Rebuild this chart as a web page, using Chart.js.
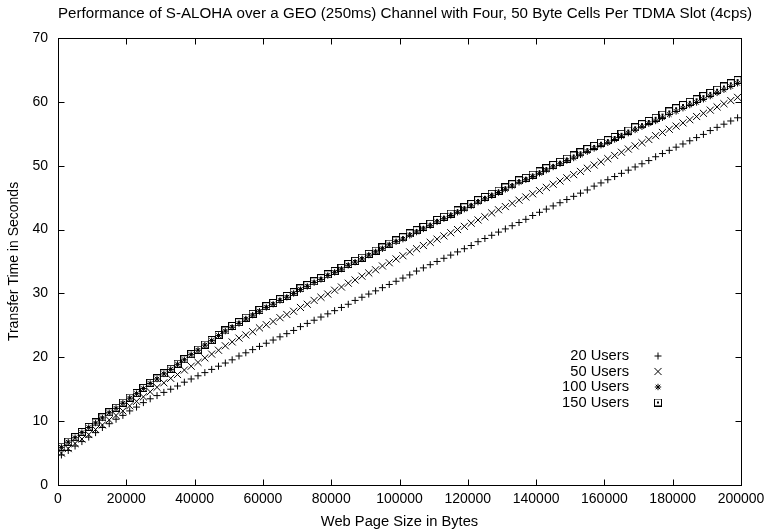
<!DOCTYPE html>
<html>
<head>
<meta charset="utf-8">
<script src="https://cdn.jsdelivr.net/npm/chart.js@4/dist/chart.umd.min.js"></script>
<style>
  html, body { margin: 0; padding: 0; background: #fff; }
  #c { display: block; }
</style>
</head>
<body>
<canvas id="c" width="765" height="531"></canvas>
<script>
// Web page sizes (bytes) at which transfer times were measured
const pageSizes = [
  1000, 3000, 5000, 7000, 9000, 11000, 13000, 15000, 17000, 19000,
  21000, 23000, 25000, 27000, 29000, 31000, 33000, 35000, 37000, 39000,
  41000, 43000, 45000, 47000, 49000, 51000, 53000, 55000, 57000, 59000,
  61000, 63000, 65000, 67000, 69000, 71000, 73000, 75000, 77000, 79000,
  81000, 83000, 85000, 87000, 89000, 91000, 93000, 95000, 97000, 99000,
  101000, 103000, 105000, 107000, 109000, 111000, 113000, 115000, 117000, 119000,
  121000, 123000, 125000, 127000, 129000, 131000, 133000, 135000, 137000, 139000,
  141000, 143000, 145000, 147000, 149000, 151000, 153000, 155000, 157000, 159000,
  161000, 163000, 165000, 167000, 169000, 171000, 173000, 175000, 177000, 179000,
  181000, 183000, 185000, 187000, 189000, 191000, 193000, 195000, 197000, 199000
];

// Transfer time in seconds, one list per user population
const users20 = [
  4.7, 5.4, 6.1, 6.8, 7.5, 8.2, 9.0, 9.6, 10.3, 10.9,
  11.6, 12.2, 12.9, 13.5, 14.0, 14.5, 15.0, 15.5, 16.1, 16.6,
  17.1, 17.6, 18.1, 18.6, 19.1, 19.6, 20.2, 20.7, 21.2, 21.7,
  22.2, 22.7, 23.2, 23.7, 24.2, 24.8, 25.3, 25.8, 26.3, 26.8,
  27.3, 27.8, 28.3, 28.9, 29.4, 29.9, 30.4, 30.9, 31.4, 31.9,
  32.4, 32.9, 33.5, 34.0, 34.5, 35.0, 35.5, 36.0, 36.5, 37.0,
  37.5, 38.1, 38.6, 39.1, 39.6, 40.1, 40.6, 41.1, 41.6, 42.2,
  42.7, 43.2, 43.7, 44.2, 44.7, 45.2, 45.7, 46.2, 46.8, 47.3,
  47.8, 48.3, 48.8, 49.3, 49.8, 50.3, 50.8, 51.4, 51.9, 52.4,
  52.9, 53.4, 53.9, 54.4, 54.9, 55.5, 56.0, 56.5, 57.0, 57.5
];
const users50 = [
  5.0, 5.7, 6.5, 7.2, 7.9, 8.7, 9.4, 10.2, 10.9, 11.6,
  12.4, 13.1, 13.8, 14.6, 15.3, 16.0, 16.7, 17.3, 18.0, 18.6,
  19.2, 19.9, 20.5, 21.1, 21.8, 22.4, 23.0, 23.5, 24.0, 24.6,
  25.1, 25.6, 26.2, 26.7, 27.2, 27.8, 28.3, 28.9, 29.4, 29.9,
  30.5, 31.0, 31.6, 32.1, 32.7, 33.2, 33.7, 34.3, 34.8, 35.4,
  35.9, 36.5, 37.0, 37.5, 38.0, 38.5, 39.0, 39.5, 40.0, 40.5,
  41.0, 41.5, 42.0, 42.6, 43.1, 43.6, 44.1, 44.6, 45.1, 45.6,
  46.1, 46.6, 47.1, 47.6, 48.1, 48.6, 49.1, 49.6, 50.1, 50.6,
  51.1, 51.6, 52.1, 52.6, 53.1, 53.6, 54.1, 54.7, 55.2, 55.7,
  56.2, 56.7, 57.2, 57.7, 58.2, 58.7, 59.2, 59.7, 60.2, 60.7
];
const users100 = [
  5.9, 6.7, 7.4, 8.2, 9.0, 9.7, 10.5, 11.3, 12.0, 12.8,
  13.6, 14.3, 15.1, 15.9, 16.6, 17.4, 18.1, 18.9, 19.6, 20.4,
  21.1, 21.9, 22.6, 23.4, 24.1, 24.7, 25.3, 26.0, 26.6, 27.2,
  27.8, 28.3, 28.9, 29.4, 30.0, 30.6, 31.1, 31.7, 32.2, 32.8,
  33.3, 33.8, 34.4, 34.9, 35.4, 36.0, 36.5, 37.0, 37.6, 38.1,
  38.5, 39.1, 39.6, 40.1, 40.6, 41.2, 41.7, 42.2, 42.7, 43.2,
  43.7, 44.3, 44.8, 45.3, 45.8, 46.3, 46.8, 47.4, 47.8, 48.3,
  48.8, 49.3, 49.8, 50.3, 50.8, 51.2, 51.7, 52.2, 52.7, 53.2,
  53.6, 54.1, 54.6, 55.1, 55.6, 56.1, 56.6, 57.0, 57.5, 58.0,
  58.5, 59.0, 59.5, 59.9, 60.4, 60.9, 61.4, 61.9, 62.4, 62.9
];
const users150 = [
  6.0, 6.8, 7.5, 8.3, 9.1, 9.8, 10.6, 11.4, 12.1, 12.9,
  13.7, 14.4, 15.2, 16.0, 16.7, 17.5, 18.2, 19.0, 19.7, 20.5,
  21.2, 22.0, 22.7, 23.5, 24.2, 24.9, 25.5, 26.2, 26.8, 27.4,
  28.0, 28.5, 29.1, 29.6, 30.2, 30.8, 31.3, 31.9, 32.4, 33.0,
  33.5, 34.0, 34.6, 35.1, 35.6, 36.2, 36.7, 37.2, 37.8, 38.3,
  38.8, 39.4, 39.9, 40.4, 40.9, 41.5, 42.0, 42.5, 43.0, 43.5,
  44.0, 44.6, 45.1, 45.6, 46.1, 46.6, 47.1, 47.7, 48.1, 48.6,
  49.1, 49.6, 50.1, 50.6, 51.1, 51.6, 52.1, 52.6, 53.1, 53.6,
  54.0, 54.5, 55.0, 55.5, 56.0, 56.5, 57.0, 57.5, 58.0, 58.5,
  59.0, 59.5, 60.0, 60.4, 60.9, 61.4, 61.9, 62.4, 62.9, 63.4
];

const seriesLabels = ['20 Users', '50 Users', '100 Users', '150 Users'];
const xTicks = { min: 0, max: 200000, step: 20000 };
const yTicks = { min: 0, max: 70, step: 10 };

const FONT = '"Liberation Sans", Arial, Helvetica, sans-serif';
Chart.defaults.font.family = FONT;
Chart.defaults.font.size = 14;
Chart.defaults.color = '#000';

// Open square with a dot in the middle
function boxedDot() {
  const cv = document.createElement('canvas');
  cv.width = 8; cv.height = 8;
  const g = cv.getContext('2d');
  g.strokeStyle = '#000';
  g.lineWidth = 1;
  g.strokeRect(0.5, 0.5, 7, 7);
  g.fillStyle = '#000';
  g.fillRect(3, 3, 2, 2);
  return cv;
}

const markerStyles = [
  { pointStyle: 'cross', pointRadius: 3.5 },
  { pointStyle: 'crossRot', pointRadius: 5 },
  { pointStyle: 'star', pointRadius: 3.2 },
  { pointStyle: boxedDot(), pointRadius: 4 }
];
const seriesValues = [users20, users50, users100, users150];

const datasets = seriesValues.map((vals, i) => ({
  label: seriesLabels[i],
  data: pageSizes.map((x, j) => ({ x: x, y: vals[j] })),
  showLine: false,
  pointStyle: markerStyles[i].pointStyle,
  pointRadius: markerStyles[i].pointRadius,
  pointHoverRadius: markerStyles[i].pointRadius,
  pointBorderColor: '#000',
  pointBackgroundColor: 'rgba(0,0,0,0)',
  pointBorderWidth: 1
}));

// Frame around the plot with inward tick marks on all four sides
const framePlugin = {
  id: 'frame',
  afterDatasetsDraw(chart) {
    const { ctx, chartArea: a, scales } = chart;
    const L = Math.round(a.left) + 0.5, R = Math.round(a.right) + 0.5;
    const T = Math.round(a.top) + 0.5, B = Math.round(a.bottom) + 0.5;
    const len = 6;
    ctx.save();
    ctx.strokeStyle = '#000';
    ctx.lineWidth = 1;
    ctx.beginPath();
    scales.x.ticks.forEach(t => {
      const px = Math.round(scales.x.getPixelForValue(t.value)) + 0.5;
      ctx.moveTo(px, B); ctx.lineTo(px, B - len);
      ctx.moveTo(px, T); ctx.lineTo(px, T + len);
    });
    scales.y.ticks.forEach(t => {
      const py = Math.round(scales.y.getPixelForValue(t.value)) + 0.5;
      ctx.moveTo(L, py); ctx.lineTo(L + len, py);
      ctx.moveTo(R, py); ctx.lineTo(R - len, py);
    });
    ctx.stroke();
    ctx.strokeRect(L, T, R - L, B - T);
    ctx.restore();
  }
};

// Key: label text right-aligned, marker to its right
const keyPlugin = {
  id: 'key',
  afterDraw(chart, args, opts) {
    const ctx = chart.ctx;
    ctx.save();
    ctx.font = opts.fontSize + 'px ' + FONT;
    ctx.fillStyle = '#000';
    ctx.strokeStyle = '#000';
    ctx.lineWidth = 1;
    ctx.textAlign = 'right';
    ctx.textBaseline = 'middle';
    chart.data.datasets.forEach((ds, i) => {
      const y = opts.top + i * opts.row;
      ctx.fillText(ds.label, opts.textRight, y);
      Chart.helpers.drawPoint(ctx, {
        pointStyle: ds.pointStyle,
        radius: ds.pointRadius,
        borderWidth: 1,
        rotation: 0
      }, opts.markerX, y);
    });
    ctx.restore();
  }
};

// Place the title horizontally and let the last x label hang past the frame
const placePlugin = {
  id: 'place',
  afterLayout(chart) {
    const tb = chart.titleBlock;
    if (tb) {
      tb.left = 58;
      tb.right = 752;
      tb.width = tb.right - tb.left;
    }
  }
};

new Chart(document.getElementById('c'), {
  type: 'scatter',
  data: { datasets: datasets },
  options: {
    responsive: false,
    animation: false,
    devicePixelRatio: 1,
    layout: { padding: { left: 0, right: 24, top: 0, bottom: 0 } },
    plugins: {
      legend: { display: false },
      tooltip: { enabled: false },
      title: {
        display: true,
        text: 'Performance of S-ALOHA over a GEO (250ms) Channel with Four, 50 Byte Cells Per TDMA Slot (4cps)',
        color: '#000',
        font: { size: 15.3, weight: 'normal' },
        padding: { top: 4.6, bottom: 15 }
      },
      key: { textRight: 629, markerX: 658, top: 356, row: 15.5, fontSize: 14.7 }
    },
    scales: {
      x: {
        type: 'linear',
        min: xTicks.min,
        max: xTicks.max,
        grid: { display: false, drawTicks: false },
        border: { display: false },
        ticks: {
          stepSize: xTicks.step,
          padding: 6,
          maxRotation: 0,
          autoSkip: false,
          color: '#000',
          callback: v => String(v)
        },
        title: {
          display: true,
          text: 'Web Page Size in Bytes',
          color: '#000',
          font: { size: 14.7 },
          padding: { top: 0, bottom: 0.6 }
        },
        afterFit: s => { s.height = 46; s.paddingRight = 0; s.paddingLeft = 0; }
      },
      y: {
        type: 'linear',
        min: yTicks.min,
        max: yTicks.max,
        grid: { display: false, drawTicks: false },
        border: { display: false },
        ticks: {
          stepSize: yTicks.step,
          padding: 10,
          color: '#000',
          callback: v => String(v)
        },
        title: {
          display: true,
          text: 'Transfer Time in Seconds',
          color: '#000',
          font: { size: 14 },
          padding: { top: 5.6, bottom: 0 }
        },
        afterFit: s => { s.width = 58; s.paddingTop = 0; s.paddingBottom = 0; }
      }
    }
  },
  plugins: [framePlugin, keyPlugin, placePlugin]
});
</script>
</body>
</html>
